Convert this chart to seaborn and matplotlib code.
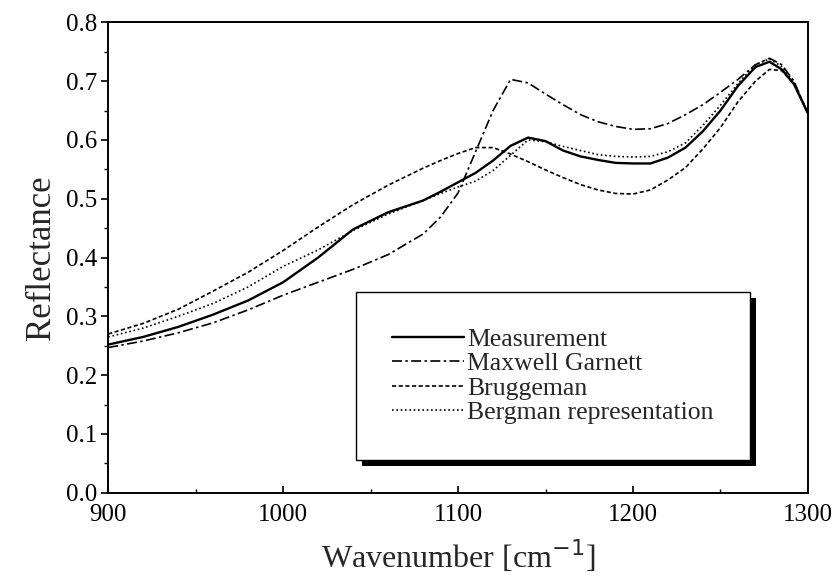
import seaborn as sns, matplotlib.pyplot as plt
from matplotlib import patheffects
from matplotlib.ticker import MultipleLocator

# wavenumber grid (cm^-1)
wn = [900, 920, 940, 960, 980, 1000, 1020, 1040, 1060, 1080, 1090, 1100, 1110, 1120,
      1130, 1140, 1150, 1160, 1170, 1180, 1190, 1200, 1210, 1220, 1230, 1240, 1250,
      1260, 1270, 1278, 1285, 1292, 1300]

measurement = [0.252, 0.265, 0.282, 0.303, 0.327, 0.358, 0.400, 0.448, 0.477, 0.497,
               0.512, 0.528, 0.544, 0.565, 0.590, 0.604, 0.598, 0.582, 0.572, 0.566,
               0.561, 0.560, 0.560, 0.570, 0.587, 0.615, 0.650, 0.692, 0.724, 0.733,
               0.720, 0.695, 0.645]
maxwell_garnett = [0.247, 0.258, 0.272, 0.289, 0.311, 0.336, 0.358, 0.380, 0.405, 0.440,
                   0.469, 0.510, 0.580, 0.650, 0.703, 0.697, 0.678, 0.660, 0.643, 0.631,
                   0.623, 0.618, 0.619, 0.628, 0.643, 0.660, 0.681, 0.703, 0.728, 0.739,
                   0.728, 0.700, 0.645]
bruggeman = [0.270, 0.288, 0.312, 0.343, 0.375, 0.412, 0.452, 0.490, 0.523, 0.552,
             0.565, 0.577, 0.587, 0.587, 0.576, 0.563, 0.549, 0.536, 0.524, 0.515,
             0.509, 0.508, 0.515, 0.532, 0.553, 0.585, 0.621, 0.665, 0.700, 0.720,
             0.718, 0.695, 0.645]
bergman = [0.265, 0.280, 0.300, 0.322, 0.350, 0.385, 0.413, 0.446, 0.474, 0.497,
           0.509, 0.520, 0.530, 0.548, 0.574, 0.600, 0.597, 0.589, 0.582, 0.575,
           0.572, 0.571, 0.572, 0.580, 0.595, 0.625, 0.659, 0.696, 0.728, 0.738,
           0.725, 0.698, 0.645]

sns.set_style('ticks')
plt.rcParams['font.family'] = ['Liberation Serif', 'DejaVu Serif']

fig, ax = plt.subplots(figsize=(8.39, 5.88), dpi=100)

sns.lineplot(x=wn, y=measurement, color='k', lw=1.7, ax=ax, label='Measurement')
sns.lineplot(x=wn, y=maxwell_garnett, color='k', lw=1.2, ax=ax, label='Maxwell Garnett',
             linestyle=(0, (6, 2, 1.5, 2)))
sns.lineplot(x=wn, y=bruggeman, color='k', lw=1.2, ax=ax, label='Bruggeman',
             linestyle=(0, (2.5, 1.5)))
sns.lineplot(x=wn, y=bergman, color='k', lw=1.2, ax=ax, label='Bergman representation',
             linestyle=(0, (1, 1.6)))

ax.set_xlim(900, 1300)
ax.set_ylim(0, 0.8)
ax.xaxis.set_major_locator(MultipleLocator(100))
ax.xaxis.set_minor_locator(MultipleLocator(50))
ax.yaxis.set_major_locator(MultipleLocator(0.1))
ax.yaxis.set_minor_locator(MultipleLocator(0.05))
ax.yaxis.set_major_formatter(plt.FormatStrFormatter('%.1f'))
ax.tick_params(which='both', labelsize=18, colors='k')
ax.tick_params(axis='x', which='both', direction='in', pad=8)
ax.tick_params(axis='y', which='both', direction='out', pad=3)
ax.tick_params(which='major', length=5, width=1.2)
ax.tick_params(which='minor', length=3, width=1)
for s in ax.spines.values():
    s.set_visible(True)
    s.set_linewidth(1.4)
    s.set_color('k')

ax.set_xlabel('Wavenumber [cm$^{-1}$]', fontsize=23, labelpad=9)
ax.set_ylabel('Reflectance', fontsize=25, labelpad=6)

leg = ax.legend(loc='lower right', bbox_to_anchor=(0.917, 0.07), borderaxespad=0,
                fontsize=18.5, handlelength=2.8, handletextpad=0.15, labelspacing=0.05,
                borderpad=1.4, fancybox=False, framealpha=1, edgecolor='k')
frame = leg.get_frame()
frame.set_linewidth(1.0)
frame.set_path_effects([patheffects.SimplePatchShadow(offset=(4.5, -4.5), shadow_rgbFace='k', alpha=1),
                        patheffects.Normal()])

fig.subplots_adjust(left=0.129, right=0.963, top=0.962, bottom=0.162)
fig.savefig('out.png', dpi=100)
